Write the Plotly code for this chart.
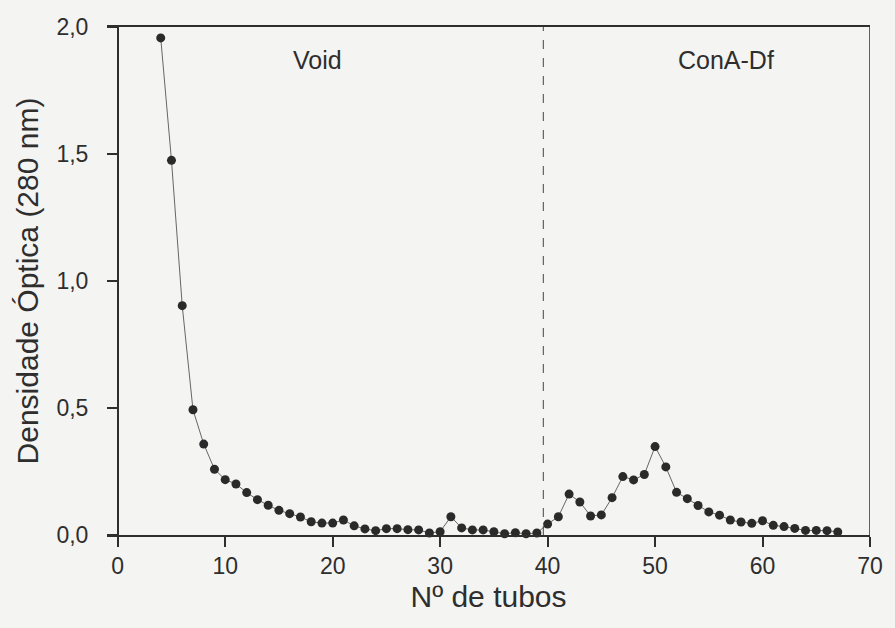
import plotly.graph_objects as go

tubos = list(range(4, 68))
densidade = [
    1.957, 1.475, 0.903, 0.493, 0.358, 0.259, 0.218, 0.201, 0.167, 0.139,
    0.117, 0.097, 0.084, 0.071, 0.052, 0.047, 0.047, 0.059, 0.036, 0.024,
    0.017, 0.025, 0.025, 0.021, 0.020, 0.008, 0.013, 0.072, 0.028, 0.020,
    0.020, 0.013, 0.005, 0.009, 0.005, 0.008, 0.043, 0.072, 0.161, 0.130,
    0.075, 0.079, 0.147, 0.230, 0.217, 0.238, 0.348, 0.268, 0.168, 0.143,
    0.116, 0.091, 0.078, 0.059, 0.051, 0.046, 0.056, 0.038, 0.033, 0.026,
    0.018, 0.018, 0.017, 0.012,
]
x_ticks = [0, 10, 20, 30, 40, 50, 60, 70]
y_ticks = [0.0, 0.5, 1.0, 1.5, 2.0]
divisor = 39.6
labels = ["Void", "ConA-Df"]
label_x = [18.6, 56.6]
label_y = [1.87, 1.87]

ink = "#2e2e2e"
bg = "#f4f4f2"
font = "Liberation Sans, Arial, sans-serif"

fig = go.Figure()
fig.add_trace(go.Scatter(
    x=tubos, y=densidade, mode="lines+markers",
    line=dict(color="#666666", width=1),
    marker=dict(color="#2a2a2a", size=9),
    cliponaxis=False, showlegend=False,
))

fig.add_shape(type="line", xref="x", yref="y", x0=divisor, x1=divisor, y0=0, y1=2,
              line=dict(color="#444444", width=1, dash="dash"))
fig.add_shape(type="line", xref="x", yref="y", x0=70, x1=70, y0=0, y1=2,
              line=dict(color=ink, width=1.5))

for t, xx, yy in zip(labels, label_x, label_y):
    fig.add_annotation(x=xx, y=yy, text=t, showarrow=False,
                       font=dict(size=25, color=ink, family=font))

fig.update_layout(
    width=895, height=628,
    margin=dict(l=107, r=21, t=27, b=93),
    paper_bgcolor=bg, plot_bgcolor=bg,
    separators=", ",
    font=dict(family=font, color=ink),
    xaxis=dict(
        range=[-1, 70], tickvals=x_ticks, ticks="outside", ticklen=10,
        tickcolor=ink, tickwidth=1.5, showline=True, linecolor=ink, linewidth=1.5,
        mirror=True, showgrid=False, zeroline=False,
        tickfont=dict(size=23, color=ink), ticklabelstandoff=0,
        title=dict(text="Nº de tubos", font=dict(size=30, color=ink), standoff=8),
    ),
    yaxis=dict(
        range=[0, 2], tickvals=y_ticks, tickformat=".1f",
        anchor="free", position=1 / 71, ticks="outside", ticklen=10,
        tickcolor=ink, tickwidth=1.5, showline=True, linecolor=ink, linewidth=1.5,
        showgrid=False, zeroline=False,
        tickfont=dict(size=23, color=ink), ticklabelstandoff=14,
        title=dict(text="Densidade Óptica (280 nm)", font=dict(size=30, color=ink), standoff=8),
    ),
)

fig.write_html(
    "out.html",
    config={"displayModeBar": False},
    post_script=f"document.body.style.margin='0';document.body.style.background='{bg}';",
)
